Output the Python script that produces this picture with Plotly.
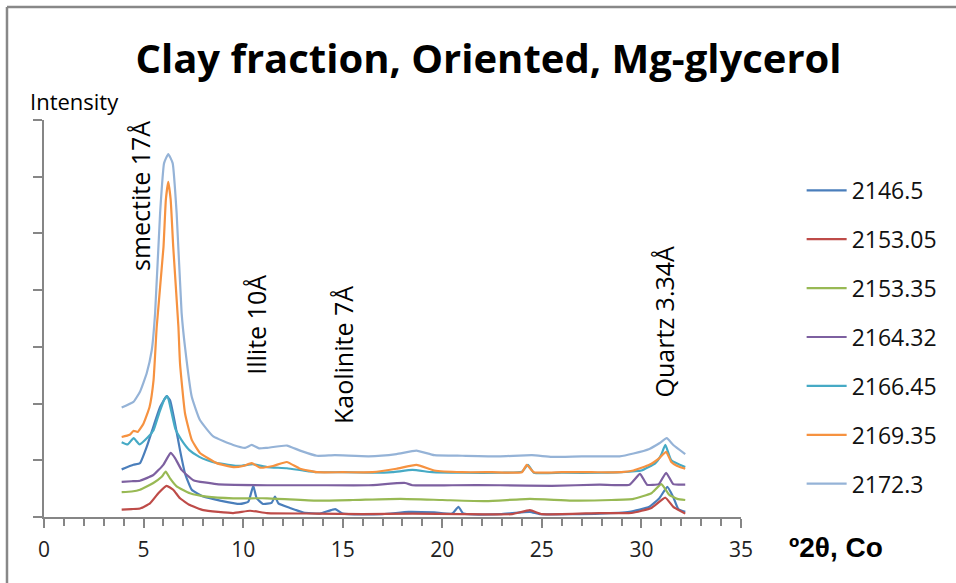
import plotly.graph_objects as go

# ---------------- data ----------------
series_names = ["2146.5", "2153.05", "2153.35", "2164.32", "2166.45", "2169.35", "2172.3"]
series_colors = ["#4A7EBB", "#BE4B48", "#98B954", "#7D60A0", "#46AAC5", "#F69240", "#95B3D7"]

x_2146_5 = [3.9, 4.49, 4.82, 5.16, 5.49, 5.83, 6.16, 6.33, 6.58, 6.83, 7.08, 7.42, 8.0, 8.84, 9.84, 10.26, 10.51, 10.68,
            11.0, 11.43, 11.6, 11.77, 12.35, 13.03, 13.86, 14.62, 15.0, 17.0, 18.3, 19.6, 20.5, 20.81, 21.06, 22.9, 24.4,
            24.9, 27.9, 29.4, 30.4, 30.9, 31.3, 31.6, 31.85, 32.2]
y_2146_5 = [84, 92, 95, 124, 159, 194, 213, 206, 165, 118, 77, 48, 36, 29, 23, 27, 55, 33, 23, 25, 36, 24, 16, 8, 6,
            14, 6, 5, 9, 8, 6, 18, 6, 5, 9, 5, 6, 9, 18, 33, 53, 35, 14, 9]

x_2153_05 = [3.9, 4.4, 4.82, 5.32, 5.74, 6.16, 6.49, 6.83, 7.33, 8.0, 9.5, 10.35, 11.2, 13.7, 16.0, 18.5, 21.0, 23.5,
             24.4, 25.0, 27.9, 29.5, 30.5, 31.2, 31.6, 32.2]
y_2153_05 = [13, 14, 15, 24, 42, 55, 48, 33, 21, 12, 7, 11, 7, 6, 5, 6, 5, 5, 12, 5, 7, 7, 16, 34, 18, 6]

x_2153_35 = [3.9, 4.4, 4.82, 5.49, 5.91, 6.11, 6.33, 6.66, 7.33, 8.17, 9.5, 11.2, 13.7, 15.5, 17.9, 20.0, 22.2, 24.4,
             26.5, 28.5, 29.6, 30.5, 31.0, 31.4, 31.8, 32.2]
y_2153_35 = [44, 45, 48, 60, 71, 80, 68, 54, 42, 36, 33, 33, 29, 30, 32, 30, 28, 32, 29, 30, 32, 42, 58, 39, 32, 30]

x_2164_32 = [3.9, 4.4, 4.82, 5.49, 5.99, 6.36, 6.58, 6.91, 7.5, 8.67, 11.2, 13.7, 16.3, 18.13, 18.5, 20.5, 22.9, 25.5,
             27.9, 29.4, 29.93, 30.28, 30.87, 31.24, 31.6, 32.2]
y_2164_32 = [62, 63, 64, 74, 92, 113, 104, 83, 65, 58, 56, 56, 56, 60, 56, 56, 56, 55, 57, 57, 76, 57, 58, 78, 58, 57]

x_2166_45 = [3.9, 4.2, 4.5, 4.8, 5.2, 5.5, 5.8, 6.05, 6.2, 6.4, 6.6, 6.9, 7.3, 7.8, 8.2, 8.7, 9.8, 10.5, 11.2, 12.2,
             13.0, 13.7, 15.0, 16.5, 17.5, 18.5, 19.5, 21.0, 23.0, 24.0, 24.3, 24.6, 26.0, 28.0, 29.0, 30.0, 30.7, 31.0,
             31.2, 31.5, 32.2]
y_2166_45 = [132, 128, 139, 128, 140, 153, 185, 208, 213, 185, 155, 136, 118, 106, 100, 95, 90, 93, 88, 86,
             82, 79, 79, 78, 79, 83, 79, 78, 78, 80, 92, 78, 78, 78, 79, 82, 95, 110, 127, 100, 88]

x_2169_35 = [3.9, 4.3, 4.5, 4.7, 5.0, 5.3, 5.5, 5.66, 6.0, 6.12, 6.24, 6.36, 6.49, 6.75, 6.83, 7.08, 7.42, 7.83, 8.67,
             9.5, 10.0, 10.43, 10.85, 11.5, 12.19, 12.86, 13.7, 15.0, 16.5, 17.7, 18.7, 19.6, 21.0, 22.5, 24.0, 24.24,
             24.6, 26.0, 27.5, 29.0, 29.6, 30.4, 30.9, 31.24, 31.5, 31.8, 32.2]
y_2169_35 = [141, 145, 152, 150, 165, 194, 241, 335, 476, 560, 591, 560, 476, 335, 271, 183, 136, 113, 95,
             88, 90, 95, 87, 90, 97, 85, 79, 79, 79, 85, 92, 82, 79, 79, 79, 92,
             79, 79, 79, 79, 82, 92, 104, 115, 97, 90, 85]

x_2172_3 = [3.9, 4.49, 4.82, 5.16, 5.41, 5.58, 5.83, 6.03, 6.24, 6.46, 6.66, 6.91, 7.08, 7.42, 7.83, 8.5, 9.5, 10.1,
            10.43, 10.8, 11.2, 12.2, 12.86, 13.7, 14.6, 16.3, 17.7, 18.7, 19.6, 21.0, 22.9, 24.5, 25.5, 27.0, 28.9,
            29.6, 30.4, 30.9, 31.27, 31.6, 32.2]
y_2172_3 = [193, 203, 221, 254, 294, 360, 536, 624, 640, 624, 536, 360, 300, 212, 171, 142, 127, 122,
            127, 121, 122, 126, 117, 108, 109, 107, 111, 117, 109, 108, 107, 109, 106, 107, 107,
            112, 120, 130, 139, 127, 111]

series_x = [x_2146_5, x_2153_05, x_2153_35, x_2164_32, x_2166_45, x_2169_35, x_2172_3]
series_y = [y_2146_5, y_2153_05, y_2153_35, y_2164_32, y_2166_45, y_2169_35, y_2172_3]

x_ticks = [0, 5, 10, 15, 20, 25, 30, 35]

peak_labels = ["smectite 17Å", "Illite 10Å", "Kaolinite 7Å", "Quartz 3.34Å"]

title_text = "Clay fraction, Oriented, Mg-glycerol"
y_title = "Intensity"
x_title = "º2θ, Co"

# ---------------- figure ----------------
fig = go.Figure()
for i, (name, col) in enumerate(zip(series_names, series_colors)):
    fig.add_trace(go.Scatter(
        x=series_x[i], y=series_y[i], name=name, mode="lines",
        line=dict(color=col, width=2.2, shape="spline", smoothing=0.4),
        legendgroup=name,
    ))

FONT = "Open Sans"
AX = "#868686"

fig.update_layout(
    width=956, height=583,
    margin=dict(l=44, r=215, t=120, b=66),
    paper_bgcolor="white", plot_bgcolor="white",
    showlegend=True,
    title=dict(text=title_text, x=0.511, xanchor="center", y=0.898, yanchor="middle",
               font=dict(family=FONT, size=40, color="black", weight=700)),
    legend=dict(x=1.087, xanchor="left", y=0.877, yanchor="top",
                font=dict(family=FONT, size=23, color="#111"),
                tracegroupgap=16, bgcolor="rgba(0,0,0,0)", itemwidth=40),
    xaxis=dict(range=[0, 35], tickvals=x_ticks, showgrid=False, zeroline=False,
               showline=True, linecolor=AX, linewidth=1.5,
               ticks="outside", ticklen=9, tickcolor=AX, tickwidth=1.5,
               ticklabelstandoff=4,
               minor=dict(dtick=1, ticks="outside", ticklen=7, tickcolor=AX, tickwidth=1.5, showgrid=False),
               tickfont=dict(family=FONT, size=21, color="#222")),
    yaxis=dict(range=[0, 700], dtick=100, showgrid=False, zeroline=False,
               showline=True, linecolor=AX, linewidth=1.5,
               ticks="outside", ticklen=9, tickcolor=AX, tickwidth=1.5,
               showticklabels=False),
)

# peak labels (vertical text)
label_pos = [(0.138, 0.809), (0.304, 0.484), (0.429, 0.408), (0.890, 0.491)]
for txt, (px_, py_) in zip(peak_labels, label_pos):
    fig.add_annotation(text=txt, xref="paper", yref="paper", x=px_, y=py_,
                       xanchor="center", yanchor="middle", textangle=-90, showarrow=False,
                       font=dict(family=FONT, size=25, color="black"))

# axis titles
fig.add_annotation(text=y_title, xref="paper", yref="paper", x=-0.023, y=1.048,
                   xanchor="left", yanchor="middle", showarrow=False,
                   font=dict(family=FONT, size=22, color="black"))
fig.add_annotation(text=x_title, xref="paper", yref="paper", x=1.136, y=-0.078,
                   xanchor="center", yanchor="middle", showarrow=False,
                   font=dict(family="Liberation Sans", size=28, color="black", weight=700))

# outer frame (top and left edges visible in the reference)
fig.add_shape(type="line", xref="paper", yref="paper", x0=-0.0531, x1=1.5, y0=1.2846, y1=1.2846,
              line=dict(color="#888888", width=2.5))
fig.add_shape(type="line", xref="paper", yref="paper", x0=-0.0531, x1=-0.0531, y0=1.2846, y1=-0.3,
              line=dict(color="#888888", width=2.5))

fig.write_html("out.html")
